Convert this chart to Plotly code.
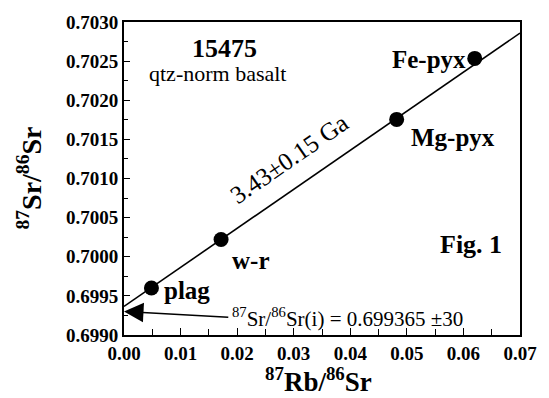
import plotly.graph_objects as go

# Data
minerals = ["plag", "w-r", "Mg-pyx", "Fe-pyx"]
rb_sr = [0.00485, 0.01716, 0.0482, 0.0620]
sr_sr = [0.69960, 0.70022, 0.701755, 0.702535]
intercept = 0.699365
slope = 0.0499
fit_x = [0.0, 0.07]
fit_y = [intercept + slope * v for v in fit_x]
x_ticks = [0.00, 0.01, 0.02, 0.03, 0.04, 0.05, 0.06, 0.07]
y_ticks = [0.6990, 0.6995, 0.7000, 0.7005, 0.7010, 0.7015, 0.7020, 0.7025, 0.7030]

FONT = "Liberation Serif, Times New Roman, serif"

fig = go.Figure()
fig.add_trace(go.Scatter(x=fit_x, y=fit_y, mode="lines",
                         line=dict(color="black", width=1.6),
                         hoverinfo="skip", showlegend=False))
fig.add_trace(go.Scatter(x=rb_sr, y=sr_sr, mode="markers",
                         marker=dict(color="black", size=15),
                         showlegend=False))

ann = []
# point labels: (x, y, xanchor)
label_pos = {
    "plag": (0.0111, 0.69957, "center"),
    "w-r": (0.0223, 0.69995, "center"),
    "Mg-pyx": (0.0581, 0.70153, "center"),
    "Fe-pyx": (0.0540, 0.70252, "center"),
}
for m in minerals:
    lx, ly, xa = label_pos[m]
    ann.append(dict(x=lx, y=ly, xref="x", yref="y", text=m, showarrow=False,
                    xanchor=xa, yanchor="middle",
                    font=dict(family=FONT, size=25, color="black", weight="bold")))

ann += [
    dict(x=0.0178, y=0.70266, xref="x", yref="y", text="15475", showarrow=False,
         font=dict(family=FONT, size=26, color="black", weight="bold")),
    dict(x=0.0166, y=0.70234, xref="x", yref="y", text="qtz-norm basalt", showarrow=False,
         font=dict(family=FONT, size=22, color="black")),
    dict(x=0.0613, y=0.70016, xref="x", yref="y", text="Fig. 1", showarrow=False,
         font=dict(family=FONT, size=26, color="black", weight="bold")),
    dict(x=0.0293, y=0.70125, xref="x", yref="y", text="3.43±0.15 Ga", showarrow=False,
         textangle=-34.7,
         font=dict(family=FONT, size=25, color="black")),
    dict(x=0.0187, y=0.69923, xref="x", yref="y",
         text="<sup>87</sup>Sr/<sup>86</sup>Sr(i) = 0.699365 ±30", showarrow=False,
         xanchor="left", yanchor="middle",
         font=dict(family=FONT, size=21, color="black")),
    dict(x=0.0, y=0.69930, xref="x", yref="y", ax=0.0187, ay=0.699225,
         axref="x", ayref="y", text="", showarrow=True,
         arrowhead=2, arrowsize=2.6, arrowwidth=1.5, arrowcolor="black"),
    # axis titles
    dict(x=0, y=0.5, xref="paper", yref="paper", xshift=-94, textangle=-90,
         text="<sup>87</sup>Sr/<sup>86</sup>Sr", showarrow=False,
         xanchor="center", yanchor="middle",
         font=dict(family=FONT, size=28, color="black", weight="bold")),
    dict(x=0.49, y=0, xref="paper", yref="paper", yshift=-45,
         text="<sup>87</sup>Rb/<sup>86</sup>Sr", showarrow=False,
         xanchor="center", yanchor="middle",
         font=dict(family=FONT, size=27, color="black", weight="bold")),
]

axis_common = dict(showgrid=False, zeroline=False, showline=True, linecolor="black",
                   linewidth=2, mirror=True, ticks="inside", tickcolor="black",
                   tickwidth=1.3,
                   tickfont=dict(family=FONT, size=19, color="black", weight="bold"))

fig.update_xaxes(range=[0, 0.07], tickvals=x_ticks,
                 ticktext=[f"{v:.2f}" for v in x_ticks], ticklen=7,
                 minor=dict(dtick=0.005, ticklen=6, ticks="inside", tickcolor="black", tickwidth=1.2),
                 **axis_common)
fig.update_yaxes(range=[0.699, 0.703], tickvals=y_ticks,
                 ticktext=[f"{v:.4f}" for v in y_ticks], ticklen=6,
                 minor=dict(dtick=0.00025, ticklen=4, ticks="inside", tickcolor="black", tickwidth=1.2),
                 **axis_common)

fig.update_layout(width=549, height=398,
                  margin=dict(l=124, r=21, t=17, b=63),
                  paper_bgcolor="white", plot_bgcolor="white",
                  annotations=ann, showlegend=False)

fig.write_html("out.html", config={"displayModeBar": False},
               post_script="document.body.style.margin='0';document.body.style.padding='0';")
